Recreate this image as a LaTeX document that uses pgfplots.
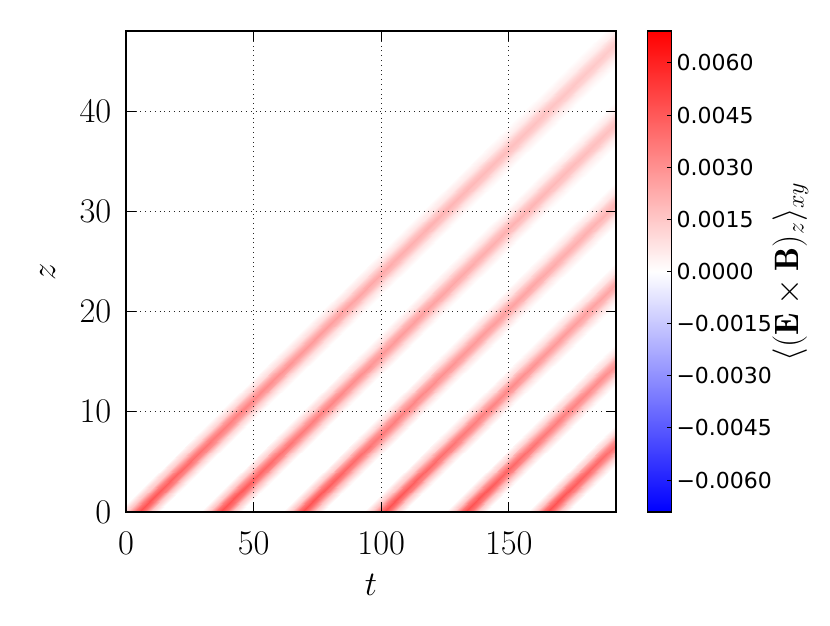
\documentclass[border=0pt]{standalone}
\usepackage{fontspec}
\usepackage{pgfplots}
\usepackage{pgfplotstable}
\pgfplotsset{compat=1.18}
\newfontfamily\dejavu{DejaVu Sans}
\pgfplotsset{colormap={bwr}{rgb255=(0,0,255) rgb255=(255,255,255) rgb255=(255,0,0)}}

% stripe meshes: x = t, y = z, c = <(E x B)_z>_xy  (7 points across, 6 levels along)
\pgfplotstableread{
x y c
-3 0 0
0.5 0 0.00154
3 0 0.00374
5 0 0.0048
7 0 0.00374
9.5 0 0.00154
13 0 0
28.8 8 0
32.4 8 0.00115
34.9 8 0.00281
37 8 0.0036
39.1 8 0.00281
41.6 8 0.00115
45.2 8 0
60.5 16 0
64.3 16 0.0009
66.9 16 0.00218
69 16 0.0028
71.1 16 0.00218
73.7 16 0.0009
77.5 16 0
100.2 26 0
104.1 26 0.0007
106.8 26 0.00172
109 26 0.0022
111.2 26 0.00172
113.9 26 0.0007
117.8 26 0
147.8 38 0
151.9 38 0.00054
154.7 38 0.00133
157 38 0.0017
159.3 38 0.00133
162.1 38 0.00054
166.2 38 0
195.4 50 0
199.7 50 0.00042
202.6 50 0.00101
205 50 0.0013
207.4 50 0.00101
210.3 50 0.00042
214.6 50 0
}\stripeA

\pgfplotstableread{
x y c
29 0 0
32.5 0 0.00154
35 0 0.00374
37 0 0.0048
39 0 0.00374
41.5 0 0.00154
45 0 0
60.8 8 0
64.4 8 0.00115
66.9 8 0.00281
69 8 0.0036
71.1 8 0.00281
73.6 8 0.00115
77.2 8 0
92.5 16 0
96.3 16 0.0009
98.9 16 0.00218
101 16 0.0028
103.1 16 0.00218
105.7 16 0.0009
109.5 16 0
132.2 26 0
136.1 26 0.0007
138.8 26 0.00172
141 26 0.0022
143.2 26 0.00172
145.9 26 0.0007
149.8 26 0
179.8 38 0
183.9 38 0.00054
186.7 38 0.00133
189 38 0.0017
191.3 38 0.00133
194.1 38 0.00054
198.2 38 0
227.4 50 0
231.7 50 0.00042
234.6 50 0.00101
237 50 0.0013
239.4 50 0.00101
242.3 50 0.00042
246.6 50 0
}\stripeB

\pgfplotstableread{
x y c
61 0 0
64.5 0 0.00154
67 0 0.00374
69 0 0.0048
71 0 0.00374
73.5 0 0.00154
77 0 0
92.8 8 0
96.4 8 0.00115
98.9 8 0.00281
101 8 0.0036
103.1 8 0.00281
105.6 8 0.00115
109.2 8 0
124.5 16 0
128.3 16 0.0009
130.9 16 0.00218
133 16 0.0028
135.1 16 0.00218
137.7 16 0.0009
141.5 16 0
164.2 26 0
168.1 26 0.0007
170.8 26 0.00172
173 26 0.0022
175.2 26 0.00172
177.9 26 0.0007
181.8 26 0
211.8 38 0
215.9 38 0.00054
218.7 38 0.00133
221 38 0.0017
223.3 38 0.00133
226.1 38 0.00054
230.2 38 0
259.4 50 0
263.7 50 0.00042
266.6 50 0.00101
269 50 0.0013
271.4 50 0.00101
274.3 50 0.00042
278.6 50 0
}\stripeC

\pgfplotstableread{
x y c
93 0 0
96.5 0 0.00154
99 0 0.00374
101 0 0.0048
103 0 0.00374
105.5 0 0.00154
109 0 0
124.8 8 0
128.4 8 0.00115
130.9 8 0.00281
133 8 0.0036
135.1 8 0.00281
137.6 8 0.00115
141.2 8 0
156.5 16 0
160.3 16 0.0009
162.9 16 0.00218
165 16 0.0028
167.1 16 0.00218
169.7 16 0.0009
173.5 16 0
196.2 26 0
200.1 26 0.0007
202.8 26 0.00172
205 26 0.0022
207.2 26 0.00172
209.9 26 0.0007
213.8 26 0
243.8 38 0
247.9 38 0.00054
250.7 38 0.00133
253 38 0.0017
255.3 38 0.00133
258.1 38 0.00054
262.2 38 0
291.4 50 0
295.7 50 0.00042
298.6 50 0.00101
301 50 0.0013
303.4 50 0.00101
306.3 50 0.00042
310.6 50 0
}\stripeD

\pgfplotstableread{
x y c
125 0 0
128.5 0 0.00154
131 0 0.00374
133 0 0.0048
135 0 0.00374
137.5 0 0.00154
141 0 0
156.8 8 0
160.4 8 0.00115
162.9 8 0.00281
165 8 0.0036
167.1 8 0.00281
169.6 8 0.00115
173.2 8 0
188.5 16 0
192.3 16 0.0009
194.9 16 0.00218
197 16 0.0028
199.1 16 0.00218
201.7 16 0.0009
205.5 16 0
228.2 26 0
232.1 26 0.0007
234.8 26 0.00172
237 26 0.0022
239.2 26 0.00172
241.9 26 0.0007
245.8 26 0
275.8 38 0
279.9 38 0.00054
282.7 38 0.00133
285 38 0.0017
287.3 38 0.00133
290.1 38 0.00054
294.2 38 0
323.4 50 0
327.7 50 0.00042
330.6 50 0.00101
333 50 0.0013
335.4 50 0.00101
338.3 50 0.00042
342.6 50 0
}\stripeE

\pgfplotstableread{
x y c
157 0 0
160.5 0 0.00154
163 0 0.00374
165 0 0.0048
167 0 0.00374
169.5 0 0.00154
173 0 0
188.8 8 0
192.4 8 0.00115
194.9 8 0.00281
197 8 0.0036
199.1 8 0.00281
201.6 8 0.00115
205.2 8 0
220.5 16 0
224.3 16 0.0009
226.9 16 0.00218
229 16 0.0028
231.1 16 0.00218
233.7 16 0.0009
237.5 16 0
260.2 26 0
264.1 26 0.0007
266.8 26 0.00172
269 26 0.0022
271.2 26 0.00172
273.9 26 0.0007
277.8 26 0
307.8 38 0
311.9 38 0.00054
314.7 38 0.00133
317 38 0.0017
319.3 38 0.00133
322.1 38 0.00054
326.2 38 0
355.4 50 0
359.7 50 0.00042
362.6 50 0.00101
365 50 0.0013
367.4 50 0.00101
370.3 50 0.00042
374.6 50 0
}\stripeF

\begin{document}
\begin{tikzpicture}
\useasboundingbox (-63pt,-57pt) rectangle (352pt,256pt);
\begin{axis}[
  at={(0pt,0pt)}, anchor=south west,
  scale only axis, width=245pt, height=240.5pt,
  xmin=0, xmax=192, ymin=0, ymax=48,
  xtick={0,50,100,150}, ytick={0,10,20,30,40},
  tick align=inside, major tick length=5pt,
  xticklabel pos=lower, yticklabel pos=left,
  tick style={black, line width=0.6pt},
  axis line style={line width=0.6pt},
  grid=major, major grid style={dotted, black!85, line width=0.5pt},
  axis on top,
  ticklabel style={font=\fontsize{16.9}{20}\selectfont},
  xticklabel style={yshift=-6.5pt},
  yticklabel style={xshift=-3.8pt},
  xlabel={$t$}, ylabel={$z$},
  label style={font=\fontsize{16.9}{20}\selectfont},
  xlabel style={at={(axis description cs:0.5,-0.152)}, anchor=center},
  ylabel style={at={(axis description cs:-0.16,0.5)}, anchor=center},
  colormap name=bwr,
  point meta min=-0.00692, point meta max=0.00692,
  colorbar,
  colorbar style={
    at={(parent axis.north east)}, anchor=north west, xshift=7.1pt,
    scale only axis, width=12pt, height=240.5pt,
    scaled y ticks=false,
    ytick={-0.006,-0.0045,-0.003,-0.0015,0,0.0015,0.003,0.0045,0.006},
    yticklabels={−0.0060,−0.0045,−0.0030,−0.0015,0.0000,0.0015,0.0030,0.0045,0.0060},
    ytick pos=right, yticklabel pos=right,
    tick align=inside, major tick length=2pt,
    tick style={black, line width=0.5pt},
    axis line style={line width=0.6pt},
    yticklabel style={font=\dejavu\fontsize{11}{13}\selectfont, xshift=-0.9pt},
    ylabel={$\langle(\mathbf{E}\times\mathbf{B})_z\rangle_{xy}$},
    ylabel style={font=\fontsize{16.9}{20}\selectfont, at={(axis description cs:5.96,0.5)}, anchor=center},
  },
]
\addplot[surf, shader=interp, mesh/rows=6, mesh/cols=7, point meta=explicit] table[x=x, y=y, meta=c] {\stripeA};
\addplot[surf, shader=interp, mesh/rows=6, mesh/cols=7, point meta=explicit] table[x=x, y=y, meta=c] {\stripeB};
\addplot[surf, shader=interp, mesh/rows=6, mesh/cols=7, point meta=explicit] table[x=x, y=y, meta=c] {\stripeC};
\addplot[surf, shader=interp, mesh/rows=6, mesh/cols=7, point meta=explicit] table[x=x, y=y, meta=c] {\stripeD};
\addplot[surf, shader=interp, mesh/rows=6, mesh/cols=7, point meta=explicit] table[x=x, y=y, meta=c] {\stripeE};
\addplot[surf, shader=interp, mesh/rows=6, mesh/cols=7, point meta=explicit] table[x=x, y=y, meta=c] {\stripeF};
\end{axis}
\end{tikzpicture}
\end{document}
